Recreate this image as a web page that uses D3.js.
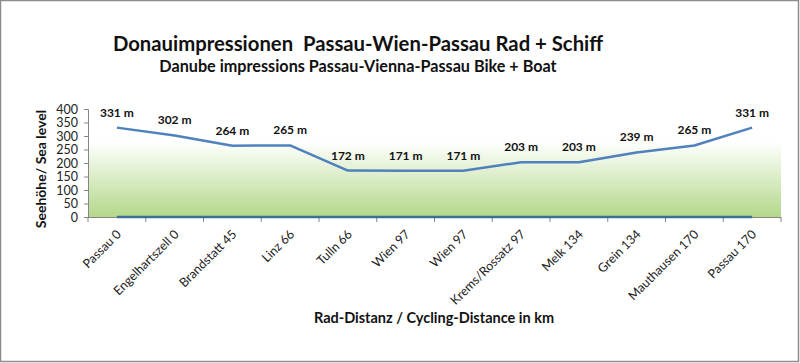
<!DOCTYPE html>
<html>
<head>
<meta charset="utf-8">
<script src="https://cdn.jsdelivr.net/npm/d3@7"></script>
<style>
  body { margin: 0; background: #fff; }
  svg { display: block; font-family: Lato, "Open Sans", sans-serif; }
  text { white-space: pre; }
</style>
</head>
<body>
<svg></svg>
<script>
"use strict";

// stations along the tour (label shows cumulative cycling km)
var places = ["Passau 0", "Engelhartszell 0", "Brandstatt 45", "Linz 66", "Tulln 66", "Wien 97",
    "Wien 97", "Krems/Rossatz 97", "Melk 134", "Grein 134", "Mauthausen 170", "Passau 170"];
var elevation = [331, 302, 264, 265, 172, 171, 171, 203, 203, 239, 265, 331];
var baseLine = [0, 0, 0, 0, 0, 0, 0, 0, 0, 0, 0, 0];
var yTicks = [0, 50, 100, 150, 200, 250, 300, 350, 400];

var width = 800,
    height = 363;

var svg = d3.select("svg")
    .attr("width", width)
    .attr("height", height);

// outer frame
svg.append("rect")
    .attr("x", 0.5).attr("y", 0.5)
    .attr("width", width - 2).attr("height", height - 2)
    .attr("fill", "#fff")
    .attr("stroke", "#8c8c8c")
    .attr("stroke-width", 1.5);

var plotLeft = 88, plotRight = 781, plotTop = 109, plotBottom = 217;

var x = d3.scaleBand()
    .domain(d3.range(places.length))
    .range([plotLeft, plotRight]);

var y = d3.scaleLinear()
    .domain([0, 400])
    .range([plotBottom, plotTop]);

// plot area gradient
var defs = svg.append("defs");
var grad = defs.append("linearGradient")
    .attr("id", "plotfill")
    .attr("x1", 0).attr("y1", 0).attr("x2", 0).attr("y2", 1);
grad.append("stop").attr("offset", "0%").attr("stop-color", "#ffffff");
grad.append("stop").attr("offset", "30%").attr("stop-color", "#ffffff");
grad.append("stop").attr("offset", "100%").attr("stop-color", "#b3d88a");

svg.append("rect")
    .attr("x", plotLeft).attr("y", plotTop)
    .attr("width", plotRight - plotLeft).attr("height", plotBottom - plotTop)
    .attr("fill", "url(#plotfill)");

// titles
svg.append("text")
    .attr("x", 358).attr("y", 51)
    .attr("text-anchor", "middle")
    .attr("font-size", 20.3)
    .attr("font-weight", "bold")
    .attr("fill", "#111")
    .text("Donauimpressionen  Passau-Wien-Passau Rad + Schiff");

svg.append("text")
    .attr("x", 358).attr("y", 72)
    .attr("text-anchor", "middle")
    .attr("font-size", 16.2)
    .attr("font-weight", "bold")
    .attr("fill", "#111")
    .text("Danube impressions Passau-Vienna-Passau Bike + Boat");

// y axis
var yAxis = svg.append("g")
    .attr("transform", "translate(" + plotLeft + ",0)")
    .call(d3.axisLeft(y).tickValues(yTicks).tickSize(4).tickPadding(6));
yAxis.selectAll("text").attr("font-size", 12.5).attr("fill", "#222")
    .attr("font-family", "Lato, sans-serif");
yAxis.selectAll("line, path").attr("stroke", "#868686");

svg.append("text")
    .attr("transform", "translate(46,169) rotate(-90)")
    .attr("text-anchor", "middle")
    .attr("font-size", 14)
    .attr("font-weight", "bold")
    .attr("fill", "#111")
    .text("Seehöhe/ Sea level");

// x axis: ticks between categories
var xAxisG = svg.append("g");
xAxisG.append("line")
    .attr("x1", plotLeft).attr("x2", plotRight)
    .attr("y1", plotBottom + 0.5).attr("y2", plotBottom + 0.5)
    .attr("stroke", "#868686");
xAxisG.selectAll("line.tick")
    .data(d3.range(places.length + 1))
    .enter().append("line")
    .attr("class", "tick")
    .attr("x1", function (d) { return plotLeft + d * x.step(); })
    .attr("x2", function (d) { return plotLeft + d * x.step(); })
    .attr("y1", plotBottom).attr("y2", plotBottom + 5)
    .attr("stroke", "#868686");

xAxisG.selectAll("text")
    .data(places)
    .enter().append("text")
    .attr("transform", function (d, i) {
        return "translate(" + (x(i) + x.bandwidth() / 2 + 5) + "," + (plotBottom + 18) + ") rotate(-45)";
    })
    .attr("text-anchor", "end")
    .attr("font-size", 12.5)
    .attr("fill", "#222")
    .text(function (d) { return d; });

svg.append("text")
    .attr("x", 434).attr("y", 323)
    .attr("text-anchor", "middle")
    .attr("font-size", 14.5)
    .attr("font-weight", "bold")
    .attr("fill", "#111")
    .text("Rad-Distanz / Cycling-Distance in km");

// lines
var line = d3.line()
    .x(function (d, i) { return x(i) + x.bandwidth() / 2; })
    .y(function (d) { return y(d); });

svg.append("path")
    .datum(baseLine)
    .attr("d", line)
    .attr("fill", "none")
    .attr("stroke", "#3f6f95")
    .attr("stroke-width", 2.5);

svg.append("path")
    .datum(elevation)
    .attr("d", line)
    .attr("fill", "none")
    .attr("stroke", "#4f81bd")
    .attr("stroke-width", 2.5)
    .attr("stroke-linejoin", "round");

// data labels
svg.selectAll("text.lbl")
    .data(elevation)
    .enter().append("text")
    .attr("class", "lbl")
    .attr("x", function (d, i) { return x(i) + x.bandwidth() / 2; })
    .attr("y", function (d) { return y(d) - 11; })
    .attr("text-anchor", "middle")
    .attr("font-size", 12)
    .attr("font-weight", "bold")
    .attr("fill", "#111")
    .text(function (d) { return d + " m"; });
</script>
</body>
</html>
